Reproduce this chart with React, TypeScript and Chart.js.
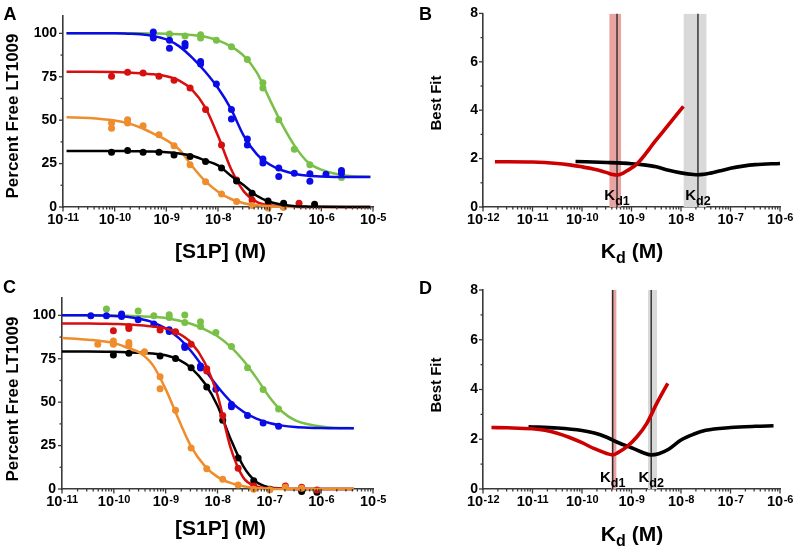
import React, { useEffect, useRef } from "react";
import { Chart, registerables } from "chart.js";
Chart.register(...registerables);

const FONT = '"Liberation Sans", Arial, Helvetica, sans-serif';
const AXIS = "#3a3a3a";
const COL_BLACK = "#000000";
const COL_RED = "#d60f0f";
const COL_BLUE = "#0b0be8";
const COL_GREEN = "#78c046";
const COL_ORANGE = "#ef8c2c";
const COL_FIT_RED = "#cc0000";
const COL_BAND_RED = "#e9a3a3";
const COL_BAND_GRAY = "#d9d9d9";

// ---------- Panel A ----------
const A_CURVE_X = [1.17e-11, 3.16e-11, 1e-10, 1.78e-10, 3.16e-10, 5.62e-10, 1e-9, 1.78e-9, 3.16e-9, 5.62e-9, 1e-8, 1.78e-8, 3.16e-8, 5.62e-8, 1e-7, 1.78e-7, 3.16e-7, 5.62e-7, 1e-6, 3.16e-6, 8.9e-6];
const A_FIT_BLACK = [32.3, 32.3, 32.3, 32.2, 32.1, 31.9, 31.5, 30.8, 29.5, 26.8, 24, 18, 12.5, 6.5, 3, 1.3, 0.5, 0.2, 0.1, 0, 0];
const A_FIT_RED = [77.9, 77.9, 77.7, 77.4, 77, 76.4, 75.3, 72.8, 67.5, 57.5, 41, 22, 9, 3, 1, 0.4, 0.1, 0, 0, 0, 0];
const A_FIT_ORANGE = [51.7, 51.3, 49.8, 48.3, 45.8, 42.3, 38.5, 33, 23.5, 15, 8.8, 4.6, 2.2, 1, 0.4, 0.15, 0.05, 0, 0, 0, 0];
const A_FIT_BLUE = [100, 100, 100, 99.8, 99.5, 98.5, 96.5, 92.5, 86, 78, 68.5, 56.5, 41, 30.5, 24.5, 21, 19, 18, 17.6, 17.3, 17.3];
const A_FIT_GREEN = [100, 100, 100, 100, 100, 99.9, 99.8, 99.5, 99, 98, 96, 92.5, 87, 77.5, 62, 47, 34.5, 25.5, 21.5, 18, 17.4];

const A_PTS_BLACK = [[8.7e-11, 31.6], [1.78e-10, 32.5], [3.55e-10, 31.6], [7.2e-10, 31.6], [1.41e-9, 30], [2.88e-9, 29.1], [5.75e-9, 26.2], [1.17e-8, 22.4], [2.29e-8, 15], [4.57e-8, 7.9], [9.3e-8, 3.5], [1.86e-7, 2.1], [7.4e-7, 1.6]];
const A_PTS_RED = [[8.7e-11, 75.3], [1.78e-10, 77.6], [3.55e-10, 77.2], [7.2e-10, 75.3], [1.41e-9, 73], [2.88e-9, 68.6], [5.75e-9, 56.1], [1.17e-8, 35.7], [2.29e-8, 15.6], [4.57e-8, 4], [9.3e-8, 1], [1.86e-7, 0], [3.7e-7, 2.1]];
const A_PTS_ORANGE = [[8.7e-11, 48.4], [8.7e-11, 45.3], [1.78e-10, 50.3], [1.78e-10, 48.4], [3.55e-10, 46.8], [7.2e-10, 41.6], [1.41e-9, 35.3], [2.88e-9, 24.3], [5.75e-9, 14.6], [1.17e-8, 7.5], [2.29e-8, 3.1], [4.57e-8, 0.8], [9.3e-8, -0.6], [1.86e-7, 0]];
const A_PTS_BLUE = [[5.6e-10, 100.8], [5.6e-10, 97.3], [1.15e-9, 96.1], [1.15e-9, 91.4], [2.3e-9, 94.2], [2.3e-9, 92.7], [4.6e-9, 83.8], [4.6e-9, 82.3], [9.3e-9, 70.9], [1.82e-8, 56.1], [1.82e-8, 50.7], [3.7e-8, 39.1], [3.7e-8, 35.7], [7.4e-8, 27.6], [7.4e-8, 25.3], [1.5e-7, 22.4], [1.5e-7, 17.5], [3e-7, 19.5], [6e-7, 19.1], [6e-7, 14.9], [1.23e-6, 18.9], [2.45e-6, 21], [2.45e-6, 19.5]];
const A_PTS_GREEN = [[1.15e-9, 99.6], [2.3e-9, 98.5], [4.6e-9, 99.2], [4.6e-9, 97.3], [9.3e-9, 96.1], [1.82e-8, 92.3], [3.7e-8, 85], [7.4e-8, 71.5], [7.4e-8, 68.6], [1.5e-7, 50.3], [3e-7, 33.3], [6e-7, 24.4], [2.45e-6, 17]];

// ---------- Panel C ----------
const C_CURVE_X = [1e-11, 3.16e-11, 1e-10, 1.78e-10, 3.16e-10, 5.62e-10, 1e-9, 1.78e-9, 3.16e-9, 5.62e-9, 1e-8, 1.78e-8, 3.16e-8, 5.62e-8, 1e-7, 1.78e-7, 3.16e-7, 5.62e-7, 1e-6, 1.78e-6, 4.27e-6];
const C_FIT_GREEN = [100, 100, 99.9, 99.8, 99.5, 99.1, 98.5, 97, 95, 92, 88, 82, 74, 64, 53, 44.5, 39.5, 37.3, 36, 35.3, 35];
const C_FIT_BLUE = [100, 100, 99.7, 99.2, 98, 96, 92.5, 87, 79, 69, 59, 50.5, 44.5, 40.5, 38, 36.5, 35.7, 35.3, 35.1, 35, 35];
const C_FIT_RED = [95.3, 95.3, 95, 94.8, 94.3, 93.6, 92.5, 89.5, 84, 73, 54, 24, 6.5, 1.5, 0.4, 0.1, 0, 0, 0, 0, 0];
const C_FIT_BLACK = [79.2, 79.2, 79, 78.8, 78.5, 78, 77, 74.5, 69.5, 61, 48, 29, 13, 4, 1, 0.3, 0, 0, 0, 0, 0];
const C_FIT_ORANGE = [87, 86, 84, 81.5, 78.5, 71.5, 57.5, 40, 24, 13.5, 7, 3.5, 1.6, 0.6, 0.2, 0, 0, 0, 0, 0, 0];

const C_PTS_GREEN = [[7.2e-11, 103.6], [2.95e-10, 102.5], [5.9e-10, 99.8], [1.17e-9, 100.3], [1.17e-9, 98.8], [2.34e-9, 100.2], [2.34e-9, 95.9], [4.7e-9, 96.3], [4.7e-9, 93.6], [9.3e-9, 90.2], [1.86e-8, 82], [3.8e-8, 69.9], [7.6e-8, 57.3], [1.51e-7, 46.1]];
const C_PTS_BLUE = [[3.6e-11, 99.8], [7.2e-11, 99.8], [1.41e-10, 100.8], [1.41e-10, 99.4], [2.95e-10, 97.5], [5.9e-10, 95], [1.17e-9, 91.7], [1.17e-9, 90.7], [2.34e-9, 82.4], [2.34e-9, 81.5], [4.7e-9, 70.8], [4.7e-9, 69.7], [9.3e-9, 57.5], [1.86e-8, 48.6], [1.86e-8, 47.3], [3.8e-8, 42.4], [7.6e-8, 38], [1.51e-7, 36.1]];
const C_PTS_RED = [[9.8e-11, 91.1], [1.95e-10, 93.6], [1.95e-10, 92.5], [7.8e-10, 91.5], [1.55e-9, 90.5], [3.1e-9, 83.4], [6.2e-9, 69.3], [6.2e-9, 67.9], [1.26e-8, 42.4], [2.5e-8, 12], [5e-8, 1.7], [1.02e-7, -2.5], [2.04e-7, 1.7], [4.2e-7, 1], [8.3e-7, -0.6]];
const C_PTS_BLACK = [[9.8e-11, 77.2], [1.95e-10, 78.2], [7.8e-10, 76.6], [1.55e-9, 75.1], [3.1e-9, 69.9], [6.2e-9, 58.7], [1.26e-8, 39.6], [2.5e-8, 17.8], [5e-8, 4.8], [1.02e-7, -0.2], [4.2e-7, -1.5], [8.3e-7, -1.9]];
const C_PTS_ORANGE = [[4.9e-11, 83.4], [9.8e-11, 85.3], [9.8e-11, 83.4], [1.95e-10, 84.4], [1.95e-10, 82.8], [3.9e-10, 79.1], [7.8e-10, 64.7], [7.8e-10, 57.7], [1.55e-9, 45.4], [3.1e-9, 23.6], [6.2e-9, 11.6], [1.26e-8, 5.6], [2.5e-8, 2.3], [5e-8, -0.2], [1.02e-7, -0.5], [2.04e-7, 1], [4.2e-7, 0.5]];

// ---------- Panel B ----------
const B_FIT_RED = [[1.74e-12, 1.87], [3.16e-12, 1.87], [1e-11, 1.86], [3.16e-11, 1.8], [5.62e-11, 1.74], [1e-10, 1.66], [1.78e-10, 1.56], [3.16e-10, 1.42], [4.2e-10, 1.34], [5.1e-10, 1.32], [6.3e-10, 1.37], [7.94e-10, 1.49], [1.26e-9, 1.76], [3.16e-9, 2.77], [5.62e-9, 3.4], [1.12e-8, 4.16]];
const B_FIT_BLACK = [[7.4e-11, 1.88], [3.16e-10, 1.84], [1e-9, 1.79], [1.78e-9, 1.74], [3.16e-9, 1.66], [5.62e-9, 1.52], [1e-8, 1.41], [1.78e-8, 1.34], [2.2e-8, 1.33], [3.98e-8, 1.4], [6.3e-8, 1.5], [1e-7, 1.6], [1.78e-7, 1.69], [3.16e-7, 1.75], [1e-6, 1.8]];
const B_KD = [5.1e-10, 2.2e-8];
const B_KD_BAND = [[3.55e-10, 6.2e-10], [1.12e-8, 3.3e-8]];

// ---------- Panel D ----------
const D_FIT_RED = [[1.48e-12, 2.47], [3.16e-12, 2.46], [1e-11, 2.42], [1.78e-11, 2.36], [3.16e-11, 2.24], [5.62e-11, 2.07], [1e-10, 1.86], [1.78e-10, 1.62], [3.16e-10, 1.43], [4.17e-10, 1.37], [5.2e-10, 1.45], [8.1e-10, 1.7], [1.29e-9, 2.1], [2.04e-9, 2.64], [3.24e-9, 3.44], [5.4e-9, 4.25]];
const D_FIT_BLACK = [[8.3e-12, 2.5], [3.16e-11, 2.45], [1e-10, 2.35], [1.78e-10, 2.25], [3.16e-10, 2.08], [5.62e-10, 1.85], [1e-9, 1.66], [1.78e-9, 1.45], [2.5e-9, 1.37], [3.55e-9, 1.42], [5.62e-9, 1.6], [1e-8, 1.97], [1.78e-8, 2.2], [3.16e-8, 2.36], [1e-7, 2.47], [3.16e-7, 2.52], [7.4e-7, 2.54]];
const D_KD = [4.17e-10, 2.5e-9];
const D_KD_BAND = [[3.9e-10, 5.0e-10], [2.14e-9, 3.3e-9]];

const KD_NAMES = ["1", "2"];

// ---------- helpers ----------
const toPts = (arr: number[][]) => arr.map(([x, y]) => ({ x, y }));
const zipPts = (xs: number[], ys: number[]) => xs.map((x, i) => ({ x, y: ys[i] }));

const curve = (data: any[], color: string, order: number, width = 2.5) => ({
  data,
  showLine: true,
  borderColor: color,
  backgroundColor: color,
  borderWidth: width,
  pointRadius: 0,
  cubicInterpolationMode: "monotone",
  fill: false,
  order,
  clip: false,
});
const dots = (data: any[], color: string, order: number) => ({
  data,
  showLine: false,
  borderColor: color,
  backgroundColor: color,
  pointBackgroundColor: color,
  pointBorderWidth: 0,
  pointRadius: 3.5,
  order,
  clip: false,
});

function makeDecor(opts: any) {
  return {
    id: "decor",
    afterDraw(chart: any) {
      const ctx = chart.ctx;
      const xs = chart.scales.x;
      const ys = chart.scales.y;
      const axisY = ys.bottom;
      const axisX = xs.left;
      ctx.save();
      ctx.strokeStyle = AXIS;
      ctx.lineWidth = 1.3;
      const vline = (p: number, len: number) => {
        ctx.beginPath();
        ctx.moveTo(p, axisY);
        ctx.lineTo(p, axisY + len);
        ctx.stroke();
      };
      const hline = (p: number, len: number) => {
        ctx.beginPath();
        ctx.moveTo(axisX, p);
        ctx.lineTo(axisX - len, p);
        ctx.stroke();
      };
      for (let e = opts.xMinExp; e <= opts.xMaxExp; e++) {
        const base = Math.pow(10, e);
        vline(xs.getPixelForValue(base), 4.5);
        if (e < opts.xMaxExp) {
          for (let m = 2; m <= 9; m++) vline(xs.getPixelForValue(m * base), 2.5);
        }
        const exp = String(e);
        ctx.fillStyle = "#000";
        ctx.textAlign = "left";
        ctx.textBaseline = "alphabetic";
        ctx.font = `bold 14.5px ${FONT}`;
        const w1 = ctx.measureText("10").width;
        ctx.font = `bold 11px ${FONT}`;
        const w2 = ctx.measureText(exp).width;
        const start = xs.getPixelForValue(base) - (w1 + w2) / 2;
        ctx.font = `bold 14.5px ${FONT}`;
        ctx.fillText("10", start, axisY + 16.5);
        ctx.font = `bold 11px ${FONT}`;
        ctx.fillText(exp, start + w1 + 0.5, axisY + 13.8);
      }
      for (const v of opts.yMajor) hline(ys.getPixelForValue(v), 4);
      for (const v of opts.yMinor) hline(ys.getPixelForValue(v), 2.5);
      if (opts.kd) {
        opts.kd.forEach((k: number, i: number) => {
          const px = xs.getPixelForValue(k);
          ctx.font = `bold 15px ${FONT}`;
          const w1 = ctx.measureText("K").width;
          ctx.font = `bold 12.5px ${FONT}`;
          const sub = "d" + KD_NAMES[i];
          const w2 = ctx.measureText(sub).width;
          const start = px - (w1 + w2) / 2;
          ctx.fillStyle = "#000";
          ctx.font = `bold 15px ${FONT}`;
          ctx.fillText("K", start, axisY - 7);
          ctx.font = `bold 12.5px ${FONT}`;
          ctx.fillText(sub, start + w1, axisY - 2.5);
        });
      }
      ctx.restore();
    },
  };
}

function buildConfig(p: any) {
  const W = p.width, H = p.height;
  return {
    type: "scatter",
    data: { datasets: p.datasets },
    plugins: [makeDecor(p.decor)],
    options: {
      responsive: false,
      animation: false,
      events: [],
      devicePixelRatio: 1,
      layout: { padding: { left: 0, top: p.area.top, right: W - p.area.right, bottom: 0 } },
      plugins: { legend: { display: false }, tooltip: { enabled: false } },
      scales: {
        x: {
          type: "logarithmic",
          min: p.xMin,
          max: p.xMax,
          ticks: { display: false },
          grid: { display: false, drawTicks: false },
          border: { display: true, color: AXIS, width: 1.6 },
          afterFit: (s: any) => {
            s.height = H - p.area.bottom;
          },
        },
        y: {
          type: "linear",
          min: 0,
          max: p.yMax,
          ticks: {
            stepSize: p.yStep,
            includeBounds: false,
            color: "#000",
            padding: p.yPad,
            font: { family: FONT, size: 14, weight: "bold" },
          },
          grid: { display: false, drawTicks: false },
          border: { display: true, color: AXIS, width: 1.6 },
          afterFit: (s: any) => {
            s.width = p.area.left;
          },
        },
      },
    },
  };
}

function Panel(props: any) {
  const ref = useRef<HTMLCanvasElement>(null);
  useEffect(() => {
    const chart = new Chart(ref.current as any, buildConfig(props) as any);
    return () => chart.destroy();
  }, []);
  return (
    <canvas
      ref={ref}
      width={props.width}
      height={props.height}
      style={{ position: "absolute", left: props.left, top: props.top, width: props.width, height: props.height }}
    />
  );
}

function Label({ x, y, size, rotate = 0, children }: any) {
  return (
    <div
      style={{
        position: "absolute",
        left: x,
        top: y,
        fontSize: size,
        fontWeight: "bold",
        lineHeight: `${size}px`,
        height: size,
        whiteSpace: "nowrap",
        color: "#000",
        transform: `translate(-50%, -50%) rotate(${rotate}deg)`,
      }}
    >
      {children}
    </div>
  );
}

const bandSets = (bands: number[][], kds: number[]) => {
  const out: any[] = [];
  bands.forEach((b, i) => {
    out.push({
      data: [{ x: b[0], y: 8 }, { x: b[1], y: 8 }],
      showLine: true,
      borderWidth: 0,
      borderColor: "rgba(0,0,0,0)",
      backgroundColor: i === 0 ? COL_BAND_RED : COL_BAND_GRAY,
      fill: "origin",
      pointRadius: 0,
      order: 10,
    });
    out.push({
      data: [{ x: kds[i], y: 0 }, { x: kds[i], y: 8 }],
      showLine: true,
      borderWidth: 1.4,
      borderColor: "#2a2a2a",
      pointRadius: 0,
      fill: false,
      order: 5,
    });
  });
  return out;
};

export default function App() {
  const aSets = [
    curve(zipPts(A_CURVE_X, A_FIT_GREEN), COL_GREEN, 6),
    curve(zipPts(A_CURVE_X, A_FIT_BLUE), COL_BLUE, 5),
    curve(zipPts(A_CURVE_X, A_FIT_RED), COL_RED, 4),
    curve(zipPts(A_CURVE_X, A_FIT_ORANGE), COL_ORANGE, 3),
    curve(zipPts(A_CURVE_X, A_FIT_BLACK), COL_BLACK, 2),
    dots(toPts(A_PTS_GREEN), COL_GREEN, 6),
    dots(toPts(A_PTS_BLUE), COL_BLUE, 5),
    dots(toPts(A_PTS_RED), COL_RED, 4),
    dots(toPts(A_PTS_ORANGE), COL_ORANGE, 3),
    dots(toPts(A_PTS_BLACK), COL_BLACK, 2),
  ];
  const cSets = [
    curve(zipPts(C_CURVE_X, C_FIT_GREEN), COL_GREEN, 6),
    curve(zipPts(C_CURVE_X, C_FIT_BLUE), COL_BLUE, 5),
    curve(zipPts(C_CURVE_X, C_FIT_BLACK), COL_BLACK, 4),
    curve(zipPts(C_CURVE_X, C_FIT_RED), COL_RED, 3),
    curve(zipPts(C_CURVE_X, C_FIT_ORANGE), COL_ORANGE, 2),
    dots(toPts(C_PTS_GREEN), COL_GREEN, 6),
    dots(toPts(C_PTS_BLUE), COL_BLUE, 5),
    dots(toPts(C_PTS_BLACK), COL_BLACK, 4),
    dots(toPts(C_PTS_RED), COL_RED, 3),
    dots(toPts(C_PTS_ORANGE), COL_ORANGE, 2),
  ];
  const bSets = [
    ...bandSets(B_KD_BAND, B_KD),
    curve(toPts(B_FIT_BLACK), COL_BLACK, 2, 3.6),
    curve(toPts(B_FIT_RED), COL_FIT_RED, 1, 3.6),
  ];
  const dSets = [
    ...bandSets(D_KD_BAND, D_KD),
    curve(toPts(D_FIT_BLACK), COL_BLACK, 2, 3.6),
    curve(toPts(D_FIT_RED), COL_FIT_RED, 1, 3.6),
  ];
  const yMajA = [0, 25, 50, 75, 100];
  const yMinA = [12.5, 37.5, 62.5, 87.5];
  const yMajB = [0, 2, 4, 6, 8];
  const yMinB = [1, 3, 5, 7];

  return (
    <div style={{ position: "absolute", left: 0, top: 0, width: 795, height: 549, background: "#fff", fontFamily: FONT, overflow: "hidden" }}>
      <Panel left={0} top={0} width={400} height={275} area={{ left: 63, top: 16, right: 373, bottom: 207 }}
        xMin={1e-11} xMax={1e-5} yMax={110} yStep={25} yPad={6} datasets={aSets}
        decor={{ xMinExp: -11, xMaxExp: -5, yMajor: yMajA, yMinor: yMinA }} />
      <Panel left={400} top={0} width={395} height={275} area={{ left: 83, top: 9, right: 380, bottom: 207 }}
        xMin={1e-12} xMax={1e-6} yMax={8} yStep={2} yPad={5} datasets={bSets}
        decor={{ xMinExp: -12, xMaxExp: -6, yMajor: yMajB, yMinor: yMinB, kd: B_KD }} />
      <Panel left={0} top={275} width={400} height={274} area={{ left: 62, top: 23, right: 373, bottom: 214 }}
        xMin={1e-11} xMax={1e-5} yMax={110} yStep={25} yPad={6} datasets={cSets}
        decor={{ xMinExp: -11, xMaxExp: -5, yMajor: yMajA, yMinor: yMinA }} />
      <Panel left={400} top={275} width={395} height={274} area={{ left: 83, top: 15, right: 380, bottom: 214 }}
        xMin={1e-12} xMax={1e-6} yMax={8} yStep={2} yPad={5} datasets={dSets}
        decor={{ xMinExp: -12, xMaxExp: -6, yMajor: yMajB, yMinor: yMinB, kd: D_KD }} />

      <Label x={10} y={14} size={18}>A</Label>
      <Label x={425.5} y={14} size={18}>B</Label>
      <Label x={9.5} y={286.5} size={18}>C</Label>
      <Label x={425.5} y={288} size={18}>D</Label>

      <Label x={12} y={116} size={17} rotate={-90}>Percent Free LT1009</Label>
      <Label x={12} y={398.5} size={17} rotate={-90}>Percent Free LT1009</Label>
      <Label x={435} y={103} size={15} rotate={-90}>Best Fit</Label>
      <Label x={435} y={385} size={15} rotate={-90}>Best Fit</Label>

      <Label x={220.5} y={250} size={21}>[S1P] (M)</Label>
      <Label x={220.5} y={527} size={21}>[S1P] (M)</Label>
      <Label x={632} y={250} size={21}>
        K<span style={{ fontSize: 16, position: "relative", top: 5 }}>d</span> (M)
      </Label>
      <Label x={632} y={533} size={21}>
        K<span style={{ fontSize: 16, position: "relative", top: 5 }}>d</span> (M)
      </Label>
    </div>
  );
}
